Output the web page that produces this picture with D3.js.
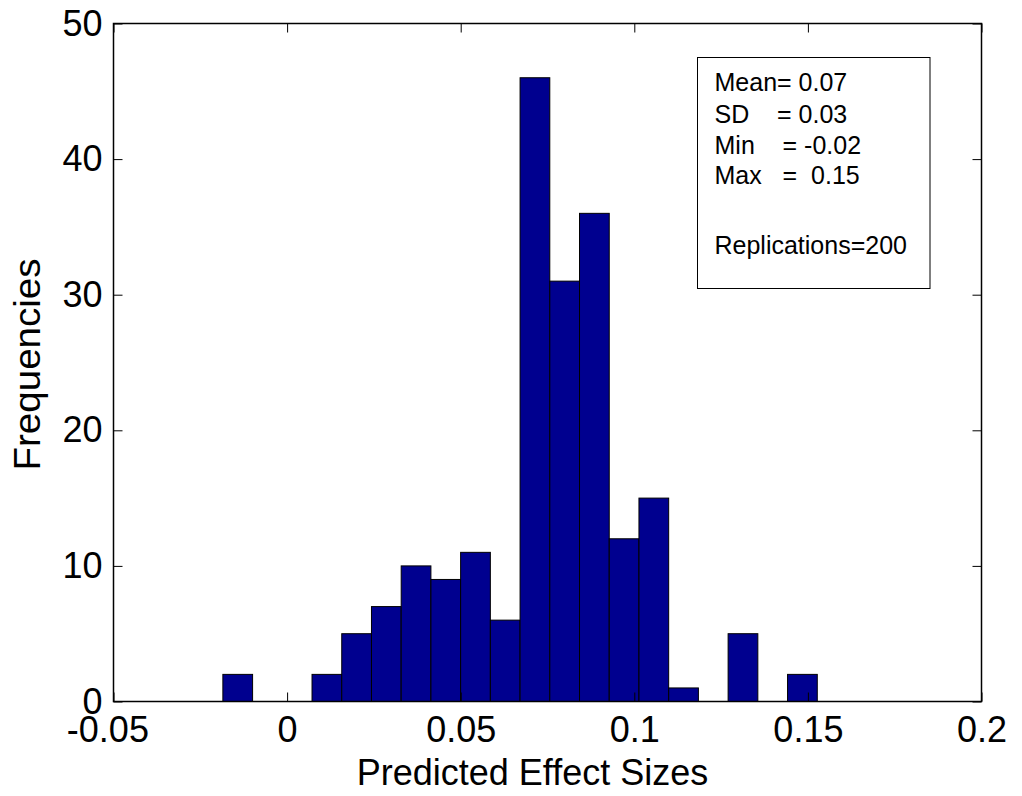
<!DOCTYPE html>
<html>
<head>
<meta charset="utf-8">
<script src="https://cdn.jsdelivr.net/npm/d3@7/dist/d3.min.js"></script>
<style>
  html, body { margin: 0; padding: 0; background: #fff; }
  svg { display: block; font-family: "Liberation Sans", Arial, sans-serif; }
</style>
</head>
<body>
<svg id="chart" width="1022" height="796"></svg>
<script>
// ---- data ----
const binCounts = [2, 0, 0, 2, 5, 7, 10, 9, 11, 6, 46, 31, 36, 12, 15, 1, 0, 5, 0, 2];
const histMin = -0.0185;
const histMax = 0.1527;
const xTicks = [-0.05, 0, 0.05, 0.1, 0.15, 0.2];
const xTickLabels = ["-0.05", "0", "0.05", "0.1", "0.15", "0.2"];
const yTicks = [0, 10, 20, 30, 40, 50];
const statsLines = ["Mean= 0.07", "SD    = 0.03", "Min    = -0.02", "Max   =  0.15", "", "Replications=200"];
const xTitle = "Predicted Effect Sizes";
const yTitle = "Frequencies";

// ---- layout ----
const svg = d3.select("#chart");
const L = 113.5, R = 981.5, T = 23.5, B = 701.5;
const x = d3.scaleLinear().domain([-0.05, 0.2]).range([L, R]);
const y = d3.scaleLinear().domain([0, 50]).range([B, T]);

const nb = binCounts.length;
const bw = (histMax - histMin) / nb;
const bins = binCounts.map((c, i) => ({ x0: histMin + i * bw, x1: histMin + (i + 1) * bw, c }));

// bars
svg.append("g").selectAll("rect").data(bins.filter(d => d.c > 0)).join("rect")
  .attr("x", d => x(d.x0))
  .attr("y", d => y(d.c))
  .attr("width", d => x(d.x1) - x(d.x0))
  .attr("height", d => y(0) - y(d.c))
  .attr("fill", "#00008F")
  .attr("stroke", "#000")
  .attr("stroke-width", 1);

const tickLen = 9;
function styleAxis(g, showLabels) {
  g.select(".domain").remove();
  g.selectAll(".tick line").attr("stroke", "#000").attr("stroke-width", 1);
  if (!showLabels) g.selectAll(".tick text").remove();
  else g.selectAll(".tick text").attr("fill", "#000").attr("font-size", 36)
    .attr("font-family", "'Liberation Sans', Arial, sans-serif");
}

// bottom axis
svg.append("g").attr("transform", `translate(0,${B})`)
  .call(d3.axisBottom(x).tickValues(xTicks).tickFormat((d, i) => xTickLabels[i])
    .tickSizeInner(-tickLen).tickSizeOuter(0).tickPadding(15))
  .call(g => styleAxis(g, true))
  .call(g => g.selectAll(".tick text").attr("dx", d => d < 0 ? "-0.17em" : null));
// top axis
svg.append("g").attr("transform", `translate(0,${T})`)
  .call(d3.axisTop(x).tickValues(xTicks).tickSizeInner(-tickLen).tickSizeOuter(0))
  .call(g => styleAxis(g, false));
// left axis
svg.append("g").attr("transform", `translate(${L},0)`)
  .call(d3.axisLeft(y).tickValues(yTicks).tickFormat(d3.format("d"))
    .tickSizeInner(-tickLen).tickSizeOuter(0).tickPadding(11))
  .call(g => styleAxis(g, true));
// right axis
svg.append("g").attr("transform", `translate(${R},0)`)
  .call(d3.axisRight(y).tickValues(yTicks).tickSizeInner(-tickLen).tickSizeOuter(0))
  .call(g => styleAxis(g, false));

// frame
svg.append("rect").attr("x", L).attr("y", T).attr("width", R - L).attr("height", B - T)
  .attr("fill", "none").attr("stroke", "#000").attr("stroke-width", 1.5);

// titles
svg.append("text").attr("x", 532.5).attr("y", 785)
  .attr("text-anchor", "middle").attr("font-size", 36).attr("fill", "#000")
  .text(xTitle);
svg.append("text").attr("transform", `translate(39.5,${364.5}) rotate(-90)`)
  .attr("text-anchor", "middle").attr("font-size", 36).attr("fill", "#000")
  .attr("textLength", 212).attr("lengthAdjust", "spacingAndGlyphs")
  .text(yTitle);

// stats box
svg.append("rect").attr("x", 697.5).attr("y", 57.5).attr("width", 232.5).attr("height", 231)
  .attr("fill", "#fff").attr("stroke", "#000").attr("stroke-width", 1);
const baselines = [91, 122.5, 153.5, 184, 0, 253.5];
svg.append("g").selectAll("text").data(statsLines).join("text")
  .attr("x", 714.5)
  .attr("y", (d, i) => baselines[i])
  .attr("font-size", 25)
  .attr("fill", "#000")
  .style("white-space", "pre")
  .text(d => d);
</script>
</body>
</html>
